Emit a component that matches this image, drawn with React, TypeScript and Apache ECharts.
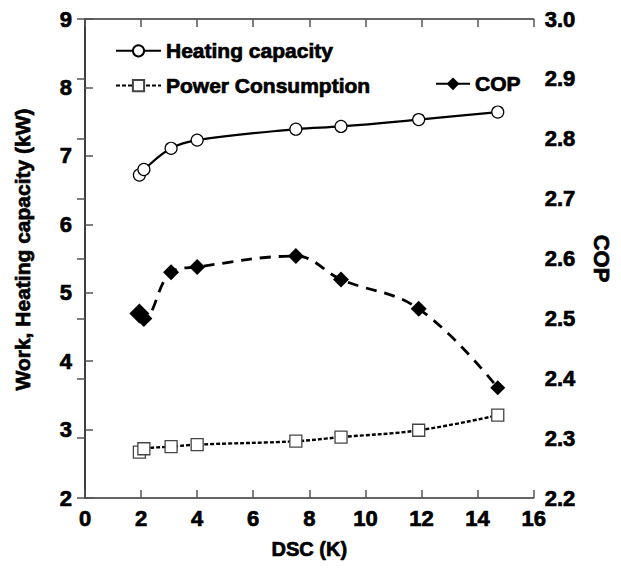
import React, { useEffect, useRef } from "react";
import * as echarts from "echarts";

const dsc = [1.94, 2.1, 3.07, 4.0, 7.52, 9.13, 11.9, 14.72];
const heatingCapacity = [6.72, 6.8, 7.11, 7.23, 7.39, 7.43, 7.53, 7.64];
const powerConsumption = [2.67, 2.72, 2.75, 2.78, 2.83, 2.89, 2.99, 3.21];
const cop = [2.508, 2.5, 2.577, 2.586, 2.604, 2.565, 2.516, 2.384];
const copSymbolSizes = [20, 17, 16, 16, 16, 16, 16, 15];

const FONT = "'Liberation Sans', Arial, sans-serif";

export default function App() {
  const ref = useRef<HTMLDivElement>(null);
  useEffect(() => {
    if (!ref.current) return;
    const chart = echarts.init(ref.current, null, { renderer: "svg" });
    const pair = (ys: number[]) => dsc.map((x, i) => [x, ys[i]]);
    const heavy = { textBorderColor: "#000", textBorderWidth: 0.7 };
    const axisText = { fontFamily: FONT, fontWeight: "bold" as const, fontSize: 22, color: "#000", ...heavy };
    const titleText = { fontFamily: FONT, fontWeight: "bold" as const, fontSize: 20, color: "#000", ...heavy };
    const legendText = { fontFamily: FONT, fontWeight: "bold" as const, fontSize: 21, color: "#000", ...heavy };
    const axisLine = { show: true, lineStyle: { color: "#333", width: 1.5 } };
    const axisTick = { show: true, inside: true, length: 8, lineStyle: { color: "#555", width: 1.5 } };
    chart.setOption({
      animation: false,
      backgroundColor: "#fff",
      textStyle: { fontFamily: FONT },
      grid: { left: 85, right: 83, top: 19, bottom: 70, containLabel: false },
      legend: [
        {
          data: ["Heating capacity", "Power Consumption"],
          orient: "vertical",
          left: 110,
          top: 35,
          itemGap: 13,
          itemWidth: 45,
          itemHeight: 14,
          textStyle: legendText,
          selectedMode: false,
        },
        {
          data: [{ name: "COP", lineStyle: { type: "solid" } }],
          left: 430,
          top: 68,
          itemWidth: 34,
          itemHeight: 16,
          textStyle: legendText,
          selectedMode: false,
        },
      ],
      xAxis: [
        {
          type: "value",
          min: 0,
          max: 16,
          interval: 2,
          name: "DSC (K)",
          nameLocation: "middle",
          nameGap: 41,
          nameTextStyle: titleText,
          axisLine,
          axisTick,
          axisLabel: { ...axisText, margin: 9 },
          splitLine: { show: false },
        },
        {
          type: "value",
          position: "top",
          min: 0,
          max: 16,
          interval: 2,
          axisLine,
          axisTick,
          axisLabel: { show: false },
          splitLine: { show: false },
        },
      ],
      yAxis: [
        {
          type: "value",
          min: 2,
          max: 9,
          interval: 1,
          name: "Work, Heating capacity (kW)",
          nameLocation: "middle",
          nameGap: 52,
          nameTextStyle: { ...titleText, fontSize: 21, padding: [0, 0, 0, 18] },
          axisLine,
          axisTick,
          axisLabel: { ...axisText, margin: 13 },
          splitLine: { show: false },
        },
        {
          type: "value",
          position: "right",
          min: 2.2,
          max: 3.0,
          interval: 0.1,
          name: "COP",
          nameLocation: "middle",
          nameGap: 57,
          nameRotate: -90,
          nameTextStyle: { ...titleText, fontSize: 22 },
          axisLine,
          axisTick,
          axisLabel: { ...axisText, margin: 11, formatter: (v: number) => v.toFixed(1) },
          splitLine: { show: false },
        },
      ],
      series: [
        {
          name: "Heating capacity",
          type: "line",
          xAxisIndex: 0,
          yAxisIndex: 0,
          smooth: 0.4,
          data: pair(heatingCapacity),
          symbol: "circle",
          symbolSize: 12,
          lineStyle: { color: "#000", width: 2.2, type: "solid" },
          itemStyle: { color: "#fff", borderColor: "#000", borderWidth: 1.2 },
          z: 3,
        },
        {
          name: "Power Consumption",
          type: "line",
          xAxisIndex: 0,
          yAxisIndex: 0,
          smooth: 0.4,
          data: pair(powerConsumption),
          symbol: "rect",
          symbolSize: 12,
          lineStyle: { color: "#000", width: 2.4, type: [4, 2] },
          itemStyle: { color: "#fff", borderColor: "#444", borderWidth: 1.3 },
          z: 3,
        },
        {
          name: "COP",
          type: "line",
          xAxisIndex: 0,
          yAxisIndex: 1,
          smooth: 0.4,
          data: pair(cop),
          symbol: "diamond",
          symbolSize: (_v: any, p: any) => copSymbolSizes[p.dataIndex],
          lineStyle: { color: "#000", width: 2.8, type: [11, 8] },
          itemStyle: { color: "#000" },
          z: 4,
        },
      ],
    });
    return () => chart.dispose();
  }, []);
  return (
    <div
      ref={ref}
      style={{ position: "fixed", left: 0, top: 0, width: 621, height: 568, background: "#fff" }}
    />
  );
}
